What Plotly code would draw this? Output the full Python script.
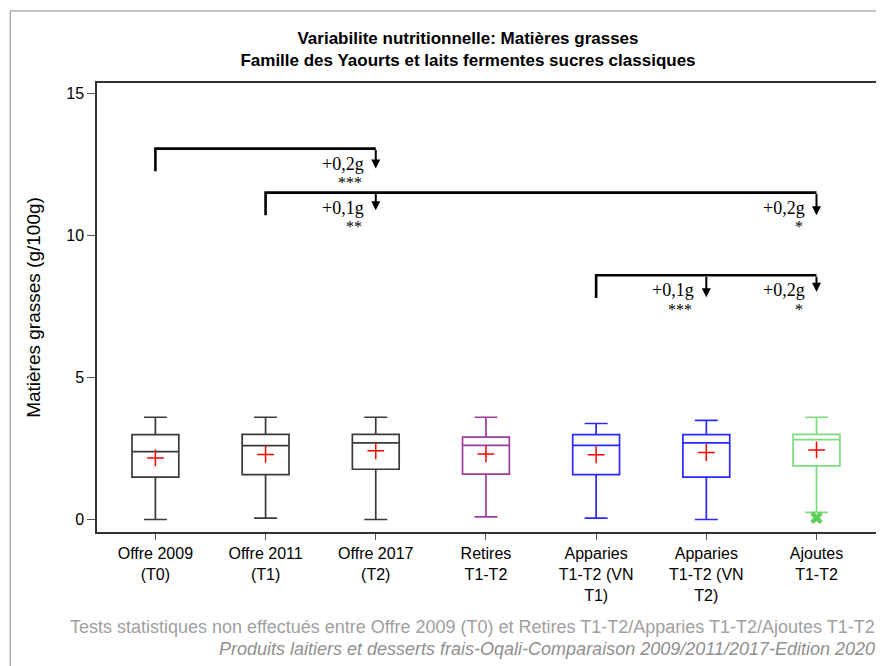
import plotly.graph_objects as go

# categories and box statistics (g/100g)
categories = [
    "Offre 2009<br>(T0)",
    "Offre 2011<br>(T1)",
    "Offre 2017<br>(T2)",
    "Retires<br>T1-T2",
    "Apparies<br>T1-T2 (VN<br>T1)",
    "Apparies<br>T1-T2 (VN<br>T2)",
    "Ajoutes<br>T1-T2",
]
lower_whisker = [0.0, 0.05, 0.0, 0.09, 0.05, 0.0, 0.25]
q1 = [1.49, 1.58, 1.77, 1.60, 1.58, 1.49, 1.89]
median = [2.39, 2.60, 2.70, 2.61, 2.61, 2.70, 2.81]
q3 = [2.99, 3.00, 3.00, 2.90, 2.99, 2.99, 3.00]
upper_whisker = [3.60, 3.60, 3.60, 3.60, 3.38, 3.49, 3.60]
mean = [2.17, 2.29, 2.42, 2.31, 2.28, 2.36, 2.45]
outlier_cat = [6]
outlier_val = [0.06]
box_colors = ["#3a3a3a", "#3a3a3a", "#3a3a3a", "#a03ca0", "#2828ff", "#2828ff", "#7ddc7d"]

# statistical comparisons: brackets from a reference category
bracket_from = [0, 1, 4]
bracket_to = [2, 6, 6]
# arrows hanging from the brackets
arrow_bracket = [0, 1, 1, 2, 2]
arrow_target = [2, 2, 6, 5, 6]
arrow_label = ["+0,2g", "+0,1g", "+0,2g", "+0,1g", "+0,2g"]
arrow_stars = ["***", "**", "*", "***", "*"]

# drawing constants for the brackets (y in axis units)
BRACKET_Y = [13.06, 11.51, 8.6]
LEG = 0.8
ARROW_LEN = [0.7, 0.62, 0.8, 0.77, 0.58]

FONT = "Liberation Sans, Arial, sans-serif"
SERIF = "Liberation Serif, Times New Roman, serif"

fig = go.Figure()

for i, cat in enumerate(categories):
    fig.add_trace(go.Box(
        x=[i], q1=[q1[i]], median=[median[i]], q3=[q3[i]],
        lowerfence=[lower_whisker[i]], upperfence=[upper_whisker[i]],
        width=0.425, whiskerwidth=0.49,
        line=dict(color=box_colors[i], width=1.7),
        fillcolor="rgba(255,255,255,0)",
        boxpoints=False, showlegend=False, hoverinfo="skip",
    ))

fig.add_trace(go.Scatter(
    x=list(range(len(categories))), y=mean, mode="markers",
    marker=dict(symbol="cross-thin", size=12, line=dict(color="red", width=1.5)),
    showlegend=False, hoverinfo="skip",
))
fig.add_trace(go.Scatter(
    x=outlier_cat, y=outlier_val, mode="markers",
    marker=dict(symbol="x", size=11, color="#5ccf5c"),
    showlegend=False, hoverinfo="skip",
))

for b in range(len(bracket_from)):
    y = BRACKET_Y[b]
    fig.add_trace(go.Scatter(
        x=[bracket_from[b], bracket_from[b], bracket_to[b]],
        y=[y - LEG, y, y], mode="lines",
        line=dict(color="black", width=2.6),
        showlegend=False, hoverinfo="skip",
    ))

for a in range(len(arrow_target)):
    y = BRACKET_Y[arrow_bracket[a]]
    xt = arrow_target[a]
    fig.add_annotation(
        x=xt, y=y - ARROW_LEN[a], ax=xt, ay=y, axref="x", ayref="y",
        text="", showarrow=True, arrowhead=2, arrowsize=0.9, arrowwidth=2,
        arrowcolor="black", standoff=0, startstandoff=0,
    )
    fig.add_annotation(
        x=xt, y=y, text=arrow_label[a], showarrow=False,
        xanchor="right", yanchor="middle", xshift=-10, yshift=-15,
        font=dict(family=SERIF, size=18, color="black"),
    )
    fig.add_annotation(
        x=xt, y=y, text=arrow_stars[a], showarrow=False,
        xanchor="right", yanchor="middle", xshift=-12, yshift=-34,
        font=dict(family=SERIF, size=16, color="black"),
    )

fig.add_annotation(
    xref="paper", yref="paper", x=1.001, y=-0.2116,
    text="Tests statistiques non effectués entre Offre 2009 (T0) et Retires T1-T2/Apparies T1-T2/Ajoutes T1-T2",
    showarrow=False, xanchor="right", yanchor="middle",
    font=dict(family=FONT, size=18, color="#a0a0a0"),
)
fig.add_annotation(
    xref="paper", yref="paper", x=1.001, y=-0.2605,
    text="<i>Produits laitiers et desserts frais-Oqali-Comparaison 2009/2011/2017-Edition 2020</i>",
    showarrow=False, xanchor="right", yanchor="middle",
    font=dict(family=FONT, size=18, color="#909090"),
)

# thin outer frame around the whole graphic
fig.add_shape(
    type="rect", xref="paper", yref="paper",
    x0=-0.1114, x1=1.02, y0=-0.35, y1=1.1604,
    line=dict(color="#8a8a8a", width=1), layer="below",
)

# page body adds an 8px offset, so the figure is 8px smaller than the window
fig.update_layout(
    width=876, height=658,
    margin=dict(l=89, r=6, t=75, b=134),
    paper_bgcolor="white", plot_bgcolor="white",
    font=dict(family=FONT, size=16, color="black"),
    title=dict(
        text="<b>Variabilite nutritionnelle: Matières grasses<br>Famille des Yaourts et laits fermentes sucres classiques</b>",
        x=460 / 876, xanchor="center", y=0.9448, yanchor="middle",
        font=dict(family=FONT, size=17, color="black"),
    ),
    xaxis=dict(
        range=[-0.53, 6.54], tickvals=list(range(len(categories))), ticktext=categories,
        showline=True, mirror=True, linecolor="#333", linewidth=1.5,
        ticks="outside", ticklen=6, tickcolor="#555", showgrid=False, zeroline=False,
        tickfont=dict(size=16),
    ),
    yaxis=dict(
        range=[-0.44, 15.37], tickvals=[0, 5, 10, 15],
        showline=True, mirror=True, linecolor="#333", linewidth=1.5,
        ticks="outside", ticklen=8, tickcolor="#555", showgrid=False, zeroline=False,
        tickfont=dict(size=16),
        title=dict(text="Matières grasses (g/100g)", font=dict(size=19), standoff=21),
    ),
)

fig.write_html("out.html")
